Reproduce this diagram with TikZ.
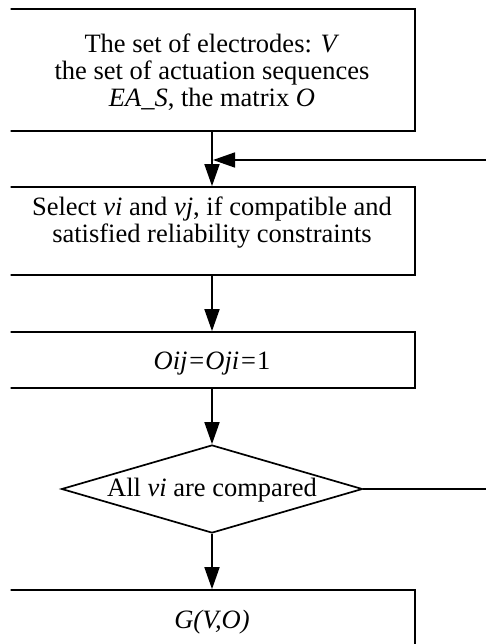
\documentclass[tikz,border=0pt]{standalone}
\usepackage{fontspec}
\setmainfont{Liberation Serif}
\usetikzlibrary{arrows.meta,shapes.geometric}
\begin{document}
\begin{tikzpicture}[x=1pt,y=-1pt,line width=1.7pt,
  box/.style={draw,rectangle,minimum width=406pt,inner sep=0pt},
  txt/.style={inner sep=0pt,align=center,font=\fontsize{26.5}{27}\selectfont},
  arr/.style={-{Triangle[length=22pt,width=15pt]}}]
\useasboundingbox (0,0) rectangle (486,644);
\clip (10.5,-5) rectangle (486,650);
\node[box,minimum height=122pt] (b1) at (212,70) {};
\node[txt] (b1t) at (212,72)
  {The set of electrodes: \textit{V}\\the set of actuation sequences\\\textit{EA\_S}, the matrix \textit{O}};
\node[box,minimum height=88pt] (b2) at (212,231) {};
\node[txt] (b2t) at (212,223)
  {Select \textit{vi} and \textit{vj}, if compatible and\\satisfied reliability constraints};
\node[box,minimum height=56pt] (b3) at (212,360) {};
\node[txt] (b3t) at (212,364) {\textit{Oij=Oji=}1};
\node[draw,diamond,minimum width=301pt,minimum height=88pt,inner sep=0pt] (dia) at (212,489) {};
\node[txt] (diat) at (212,490) {All \textit{vi} are compared};
\node[box,minimum height=60pt] (b4) at (212,620) {};
\node[txt] (b4t) at (212,622) {\textit{G(V,O)}};
\coordinate (r1) at (505,489);
\coordinate (r2) at (505,160);
\coordinate (j) at (213,160);
\draw[arr] (b1.south) -- (b2.north);
\draw[arr] (b2.south) -- (b3.north);
\draw[arr] (b3.south) -- (dia.north);
\draw[arr] (dia.south) -- (b4.north);
\draw[arr] (dia.east) -- (r1) -- (r2) -- (j);
\end{tikzpicture}
\end{document}
